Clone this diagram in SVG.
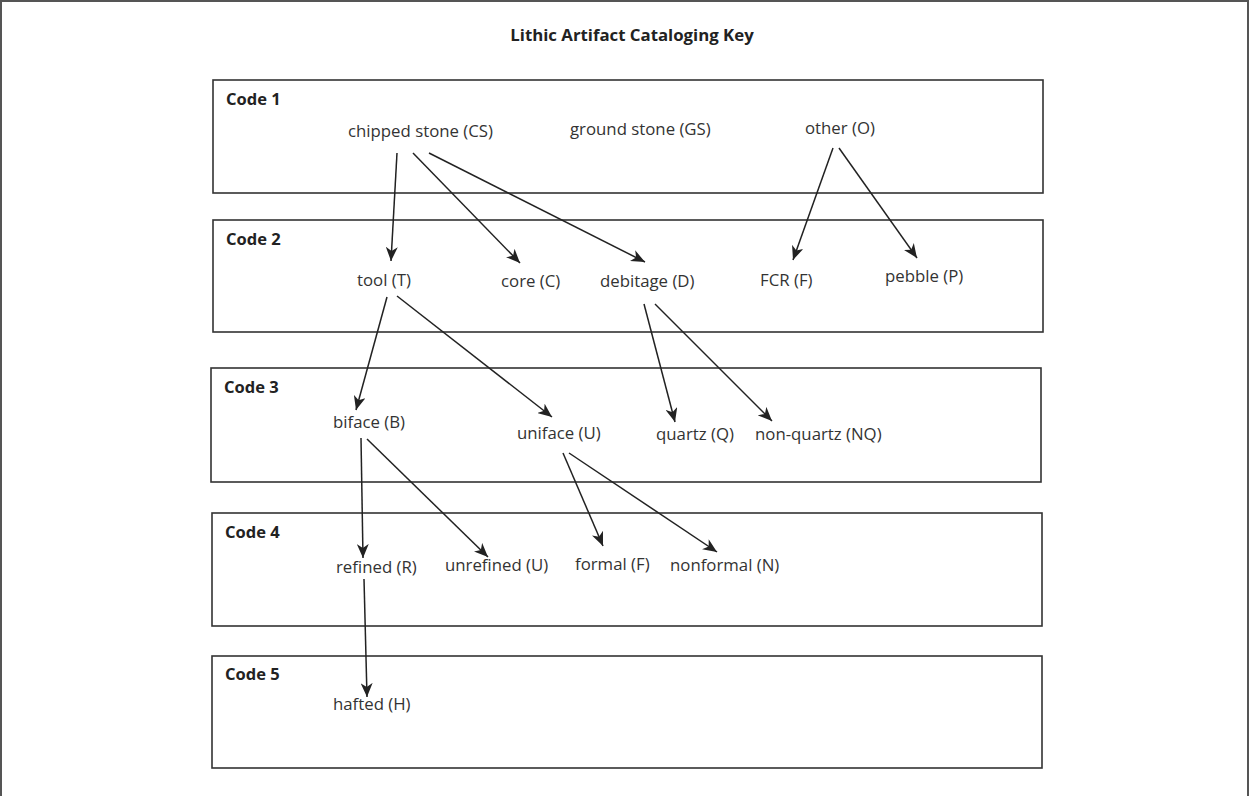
<svg xmlns="http://www.w3.org/2000/svg" width="1249" height="796" viewBox="0 0 1249 796">
<style>
.box{fill:none;stroke:#333;stroke-width:1.6}
.code{font-family:"Open Sans","Noto Sans",sans-serif;font-weight:bold;font-size:16.5px;fill:#222}
.lbl{font-family:"Open Sans","Noto Sans",sans-serif;font-size:16.8px;fill:#333}
.ttl{font-family:"Open Sans","Noto Sans",sans-serif;font-weight:bold;font-size:16.8px;fill:#222}
.edge{stroke:#222;stroke-width:1.5;fill:none;marker-end:url(#ah)}
</style>
<defs>
<marker id="ah" markerUnits="userSpaceOnUse" markerWidth="16" markerHeight="12" refX="14" refY="6" orient="auto">
<path d="M0,0 L14,6 L0,12 L4,6 z" fill="#222"/>
</marker>
</defs>
<rect width="1249" height="796" fill="#fff"/>
<path d="M1,796 L1,1 L1248,1 L1248,796" fill="none" stroke="#555" stroke-width="2"/>
<text class="ttl" x="632" y="41" text-anchor="middle">Lithic Artifact Cataloging Key</text>

<g id="code1">
<rect class="box" x="213" y="80" width="830" height="113"/>
<text class="code" x="226" y="105">Code 1</text>
</g>
<g id="code2">
<rect class="box" x="213" y="220" width="830" height="112"/>
<text class="code" x="226" y="245">Code 2</text>
</g>
<g id="code3">
<rect class="box" x="211" y="368" width="830" height="114"/>
<text class="code" x="224" y="393">Code 3</text>
</g>
<g id="code4">
<rect class="box" x="212" y="513" width="830" height="113"/>
<text class="code" x="225" y="538">Code 4</text>
</g>
<g id="code5">
<rect class="box" x="212" y="656" width="830" height="112"/>
<text class="code" x="225" y="680">Code 5</text>
</g>

<g id="cs"><text class="lbl" x="348" y="137">chipped stone (CS)</text></g>
<g id="gs"><text class="lbl" x="570" y="135">ground stone (GS)</text></g>
<g id="o"><text class="lbl" x="805" y="134">other (O)</text></g>
<g id="t"><text class="lbl" x="357" y="286">tool (T)</text></g>
<g id="c"><text class="lbl" x="501" y="287">core (C)</text></g>
<g id="d"><text class="lbl" x="600" y="287">debitage (D)</text></g>
<g id="f"><text class="lbl" x="760" y="286">FCR (F)</text></g>
<g id="p"><text class="lbl" x="885" y="282">pebble (P)</text></g>
<g id="b"><text class="lbl" x="333" y="428">biface (B)</text></g>
<g id="u"><text class="lbl" x="517" y="439">uniface (U)</text></g>
<g id="q"><text class="lbl" x="656" y="440">quartz (Q)</text></g>
<g id="nq"><text class="lbl" x="755" y="440">non-quartz (NQ)</text></g>
<g id="r"><text class="lbl" x="336" y="573">refined (R)</text></g>
<g id="ur"><text class="lbl" x="445" y="571">unrefined (U)</text></g>
<g id="fo"><text class="lbl" x="575" y="570">formal (F)</text></g>
<g id="n"><text class="lbl" x="670" y="571">nonformal (N)</text></g>
<g id="h"><text class="lbl" x="333" y="710">hafted (H)</text></g>

<g id="connectors">
<line class="edge" x1="397" y1="153" x2="391" y2="261"/>
<line class="edge" x1="413" y1="153" x2="520" y2="263"/>
<line class="edge" x1="429" y1="153" x2="645" y2="262"/>
<line class="edge" x1="833" y1="148" x2="793" y2="260"/>
<line class="edge" x1="839" y1="148" x2="917" y2="258"/>
<line class="edge" x1="387" y1="297" x2="356" y2="410"/>
<line class="edge" x1="397" y1="296" x2="552" y2="417"/>
<line class="edge" x1="644" y1="304" x2="675" y2="422"/>
<line class="edge" x1="655" y1="304" x2="772" y2="421"/>
<line class="edge" x1="361" y1="438" x2="363" y2="558"/>
<line class="edge" x1="367" y1="439" x2="488" y2="557"/>
<line class="edge" x1="563" y1="453" x2="603" y2="546"/>
<line class="edge" x1="569" y1="453" x2="717" y2="552"/>
<line class="edge" x1="364" y1="579" x2="367" y2="697"/>
</g>
</svg>
